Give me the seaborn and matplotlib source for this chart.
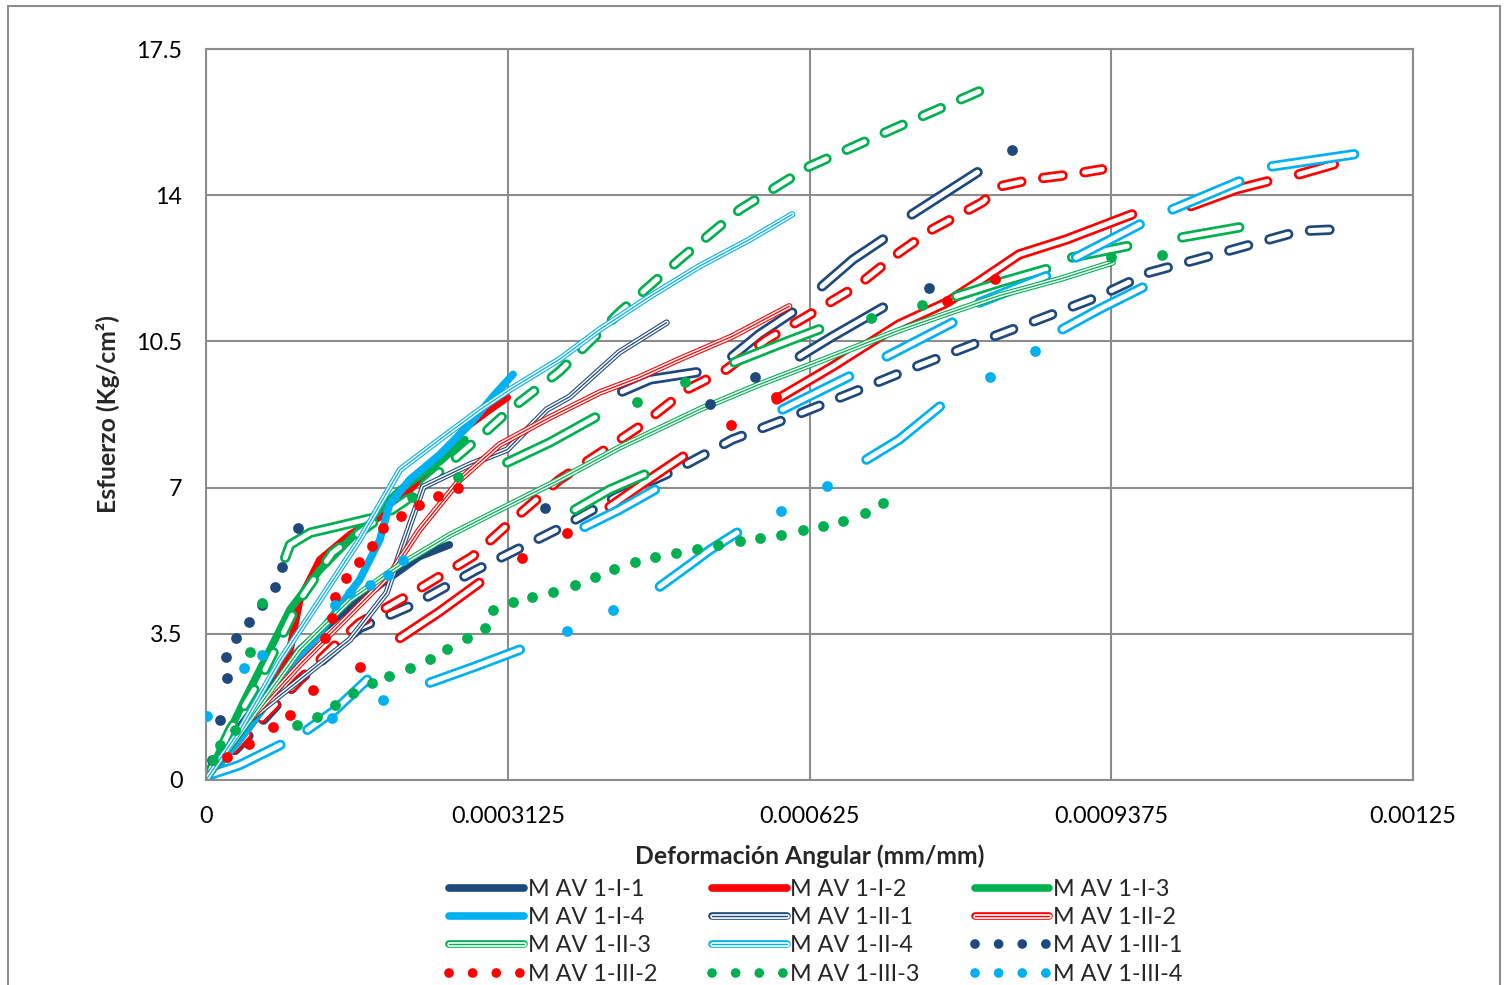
import numpy as np
import pandas as pd
import matplotlib
matplotlib.use("Agg")
import matplotlib.pyplot as plt
import seaborn as sns
from matplotlib.lines import Line2D
from matplotlib.patches import Rectangle

nan = np.nan

# deformation values in 1e-6 mm/mm, stress in Kg/cm2, nan = break between loops
# --- M AV 1-I-1 (navy)
I1_x = [0, 25, 56, 97, 139, 180, 221, 252]
I1_y = [0, 0.96, 1.92, 3.12, 3.96, 4.67, 5.35, 5.63]
I1b_x = [431, 460, 508, nan, 545, 573, 607, nan, 615, 649, 701, nan, 638, 670, 701, nan, 731, 799]
I1b_y = [9.30, 9.59, 9.76, nan, 10.14, 10.67, 11.19, nan, 10.14, 10.62, 11.31, nan, 11.82, 12.46, 12.94, nan, 13.54, 14.55]
envN_x = [0, 45, 97, 159, 214, 280, 369, 425, 487, 545, 607, 670, 728, 808, 863, 925, 977, 1039, 1132, 1170]
envN_y = [0, 1.08, 2.40, 3.64, 4.19, 5.03, 6.06, 6.78, 7.43, 8.15, 8.70, 9.28, 9.83, 10.55, 11.03, 11.58, 12.15, 12.54, 13.14, 13.18]

# --- M AV 1-I-2 (red)
I2_x = [0, 35, 66, 87, 97, 118, 149, 187, 214, 242, 270, 294, 312]
I2_y = [0, 0.96, 1.92, 3.12, 4.31, 5.27, 5.87, 6.40, 7.02, 7.72, 8.46, 8.87, 9.16]
I2b_x = [591, 649, 718, 767, 801, 842, 891, 959, nan, 1020, 1067, 1099, nan, 1132, 1168, nan,
         201, 242, 283, nan, 418, 454, 494]
I2b_y = [9.11, 9.90, 10.91, 11.43, 11.94, 12.58, 12.94, 13.54, nan, 13.74, 14.14, 14.33, nan, 14.50, 14.74, nan,
         3.40, 4.03, 4.72, nan, 6.54, 7.12, 7.74]
envR_x = [0, 56, 97, 136, 159, 214, 276, 318, 366, 418, 449, 498, 539, 581, 622, 674, 718, 752, 804, 822, 856, 897, 928]
envR_y = [0, 1.44, 2.40, 3.28, 3.76, 4.48, 5.35, 6.23, 7.19, 7.98, 8.46, 9.35, 9.83, 10.55, 11.10, 11.82, 12.63, 13.18,
          13.83, 14.21, 14.38, 14.50, 14.62]

# --- M AV 1-I-3 (green)
I3_x = [0, 20, 40, 61, 87, 118, 159, 201, 242, 268]
I3_y = [0, 0.96, 1.92, 2.88, 4.08, 5.03, 5.99, 6.95, 7.62, 8.15]
I3b_x = [82, 87, 108, 134, 170, nan, 312, 356, 403, nan, 382, 418, 454, nan, 547, 594, 635, nan,
         777, 822, 870, nan, 897, 954, nan, 1011, 1070]
I3b_y = [5.32, 5.63, 5.92, 6.06, 6.26, nan, 7.60, 8.08, 8.68, nan, 6.47, 6.95, 7.31, nan, 10.00, 10.43, 10.79, nan,
         11.58, 11.91, 12.23, nan, 12.51, 12.78, nan, 12.99, 13.23]
envG_x = [0, 25, 56, 97, 131, 170, 208, 247, 284, 315, 366, 428, 491, 553, 625, 718, 806]
envG_y = [0, 1.20, 2.40, 4.31, 5.44, 6.11, 6.71, 7.48, 8.22, 8.87, 9.78, 11.19, 12.47, 13.66, 14.69, 15.65, 16.54]

# --- M AV 1-I-4 (light blue)
I4_x = [0, 35, 66, 97, 128, 159, 180, 190, 211, 242, 273, 299, 318]
I4_y = [0, 0.96, 1.92, 2.88, 3.84, 4.79, 5.75, 6.59, 7.19, 7.79, 8.51, 9.23, 9.71]
I4b_x = [105, 134, 167, nan, 232, 278, 325, nan, 392, 428, 465, nan, 470, 501, 522, 550, nan, 684, 718, 760, nan,
         597, 666, nan, 705, 773, nan, 887, 925, 970, nan, 801, 870, nan, 901, 967, nan, 1001, 1070, nan,
         1104, 1189, nan, 4, 35, 77]
I4b_y = [1.20, 1.68, 2.40, nan, 2.33, 2.71, 3.12, nan, 6.06, 6.47, 6.95, nan, 4.63, 5.15, 5.51, 5.92, nan, 7.67, 8.15, 8.94, nan,
         8.87, 9.66, nan, 10.14, 10.95, nan, 10.79, 11.27, 11.79, nan, 11.43, 12.06, nan, 12.51, 13.30, nan, 13.66, 14.33, nan,
         14.69, 14.98, nan, 0.12, 0.36, 0.84]

# --- M AV 1-II-x
II1_x = [0, 45, 97, 149, 187, 201, 225, 273, 312, 353, 377, 428, 477]
II1_y = [0, 1.44, 2.40, 3.36, 4.48, 5.44, 7.02, 7.55, 7.91, 8.87, 9.18, 10.24, 10.95]
II2_x = [0, 45, 97, 149, 190, 221, 263, 304, 356, 408, 449, 490, 545, 604]
II2_y = [0, 1.44, 2.76, 3.96, 4.91, 5.99, 7.19, 8.03, 8.68, 9.28, 9.64, 10.07, 10.62, 11.34]
II3_x = [0, 45, 97, 149, 201, 253, 304, 366, 428, 511, 573, 635, 718, 822, 884, 939]
II3_y = [0, 1.44, 3.12, 4.31, 5.15, 5.87, 6.47, 7.19, 7.96, 8.87, 9.47, 10.02, 10.77, 11.60, 11.99, 12.39]
II4_x = [0, 35, 77, 118, 159, 201, 242, 284, 315, 366, 408, 460, 511, 563, 607]
II4_y = [0, 1.20, 2.88, 4.31, 5.75, 7.43, 8.15, 8.87, 9.35, 10.07, 10.79, 11.58, 12.30, 12.94, 13.54]

# --- M AV 1-III-x (dotted)
III1_x = [6, 15, 22, 21, 31, 45, 58, 71, 79, 95, 351, 522, 569, 749, 835]
III1_y = [0.48, 1.44, 2.45, 2.95, 3.40, 3.79, 4.19, 4.63, 5.11, 6.04, 6.52, 8.99, 9.64, 11.79, 15.08]
III2_x = [22, 45, 69, 87, 111, 123, 131, 134, 145, 158, 172, 183, 202, 221, 240, 261, 159, 327, 374, 544, 590, 767, 817]
III2_y = [0.55, 0.85, 1.27, 1.56, 2.16, 3.40, 3.88, 4.39, 4.84, 5.23, 5.61, 6.04, 6.33, 6.59, 6.81, 7.00, 2.71, 5.32,
          5.92, 8.51, 9.16, 11.46, 11.99]
III3_x = [7, 15, 30, 94, 115, 134, 152, 172, 190, 211, 232, 250, 270, 289, 297, 318, 338, 359, 382, 403, 423, 444,
          465, 487, 509, 530, 553, 574, 596, 618, 639, 660, 682, 701, 46, 58, 213, 261, 446, 496, 689, 741, 937, 990]
III3_y = [0.48, 0.84, 1.20, 1.32, 1.51, 1.80, 2.09, 2.33, 2.49, 2.68, 2.90, 3.14, 3.40, 3.64, 4.08, 4.27, 4.39, 4.51,
          4.67, 4.87, 5.06, 5.23, 5.35, 5.44, 5.54, 5.63, 5.71, 5.80, 5.87, 5.99, 6.09, 6.21, 6.38, 6.64, 3.07, 4.24,
          6.78, 7.25, 9.04, 9.52, 11.07, 11.36, 12.51, 12.58]
III4_x = [1, 39, 58, 130, 183, 374, 422, 596, 643, 812, 859, 134, 149, 170, 188, 204]
III4_y = [1.53, 2.68, 3.00, 1.49, 1.92, 3.57, 4.08, 6.45, 7.05, 9.64, 10.28, 4.19, 4.48, 4.67, 4.91, 5.27]

labels = ["M AV 1-I-1", "M AV 1-I-2", "M AV 1-I-3", "M AV 1-I-4",
          "M AV 1-II-1", "M AV 1-II-2", "M AV 1-II-3", "M AV 1-II-4",
          "M AV 1-III-1", "M AV 1-III-2", "M AV 1-III-3", "M AV 1-III-4"]
xticks = [0, 0.0003125, 0.000625, 0.0009375, 0.00125]
xtick_labels = ["0", "0.0003125", "0.000625", "0.0009375", "0.00125"]
yticks = [0, 3.5, 7, 10.5, 14, 17.5]
ytick_labels = ["0", "3.5", "7", "10.5", "14", "17.5"]

navy, red, green, lblue = "#1F497D", "#FF0000", "#00B050", "#00B0F0"
cols = [navy, red, green, lblue]

sns.set_style("white")
plt.rcParams["font.family"] = ["Lato", "DejaVu Sans"]
plt.rcParams["lines.scale_dashes"] = False

fig = plt.figure(figsize=(15.06, 9.85), dpi=100)
ax = fig.add_axes([206 / 1506, 1 - 780 / 985, (1413 - 206) / 1506, (780 - 49) / 985])


def to_df(x, y):
    x = np.array(x, float) * 1e-6
    y = np.array(y, float)
    seg = np.cumsum(np.isnan(x))
    return pd.DataFrame({"x": x, "y": y, "seg": seg}).dropna()


def draw(x, y, color, lw, **kw):
    sns.lineplot(data=to_df(x, y), x="x", y="y", units="seg", estimator=None, sort=False,
                 color=color, lw=lw, ax=ax, legend=False, solid_capstyle="round",
                 solid_joinstyle="round", dash_capstyle="round", **kw)


def hollow(x, y, color):
    draw(x, y, color, 7.5)
    draw(x, y, "white", 3.6)


def dashed_hollow(x, y, color):
    draw(x, y, color, 7.5, linestyle=(0, (14, 16)))
    draw(x, y, "white", 3.6, linestyle=(0, (14, 16)))


def double(x, y, color):
    draw(x, y, color, 4.6)
    draw(x, y, "white", 3.0)
    draw(x, y, color, 0.9)


def dots(x, y, color):
    sns.scatterplot(x=np.array(x) * 1e-6, y=y, color=color, s=60, linewidth=0, ax=ax, legend=False, zorder=3)


# series I
draw(I1_x, I1_y, navy, 5.5)
hollow(I1b_x, I1b_y, navy)
dashed_hollow(envN_x, envN_y, navy)
draw(I2_x, I2_y, red, 5.5)
hollow(I2b_x, I2b_y, red)
dashed_hollow(envR_x, envR_y, red)
draw(I3_x, I3_y, green, 5.5)
hollow(I3b_x, I3b_y, green)
dashed_hollow(envG_x, envG_y, green)
draw(I4_x, I4_y, lblue, 5.5)
hollow(I4b_x, I4b_y, lblue)

# series II
double(II1_x, II1_y, navy)
double(II2_x, II2_y, red)
double(II3_x, II3_y, green)
double(II4_x, II4_y, lblue)

# series III
dots(III1_x, III1_y, navy)
dots(III2_x, III2_y, red)
dots(III3_x, III3_y, green)
dots(III4_x, III4_y, lblue)

gcol = "#8C8C8C"
fs = 16.8
ax.set_xlim(0, 0.00125)
ax.set_ylim(0, 17.5)
ax.set_xticks(xticks)
ax.set_xticklabels(xtick_labels)
ax.set_yticks(yticks)
ax.set_yticklabels(ytick_labels)
ax.grid(True, color=gcol, lw=1.5)
ax.set_axisbelow(True)
for s in ax.spines.values():
    s.set_color(gcol)
    s.set_linewidth(1.5)
ax.tick_params(direction="out", length=6, width=1.5, color=gcol, labelsize=fs, labelcolor="black")
ax.tick_params(axis="x", pad=13)
ax.tick_params(axis="y", pad=11)
ax.set_xlabel("Deformación Angular (mm/mm)", fontsize=17.8, fontweight="bold", labelpad=12)
ax.set_ylabel("Esfuerzo (Kg/cm²)", fontsize=17.8, fontweight="bold", labelpad=12)

# legend (row-major like the original)
handles = []
for c in cols:
    handles.append(Line2D([], [], color=c, lw=5.5, solid_capstyle="round"))
for c in cols:
    handles.append((Line2D([], [], color=c, lw=5.5, solid_capstyle="round"),
                    Line2D([], [], color="white", lw=3.4),
                    Line2D([], [], color=c, lw=1.0)))
for c in cols:
    handles.append(Line2D([], [], color=c, lw=7, linestyle=(0, (0.01, 17)), dash_capstyle="round"))
order = [3 * r + cidx for cidx in range(3) for r in range(4)]
ax.legend([handles[k] for k in order], [labels[k] for k in order], ncol=3,
          loc="upper left", bbox_to_anchor=(449 / 1506, 1 - 879 / 985), bbox_transform=fig.transFigure,
          frameon=False, fontsize=fs, handlelength=3.2, handletextpad=0.17, columnspacing=2.35,
          labelspacing=0.31, borderpad=0, borderaxespad=0)

fig.patches.append(Rectangle((8 / 1506, -0.02), (1500 - 8) / 1506, 1 - 6 / 985 + 0.02,
                             transform=fig.transFigure, fill=False, edgecolor=gcol, lw=1.5))

fig.savefig("out.png", dpi=100)
